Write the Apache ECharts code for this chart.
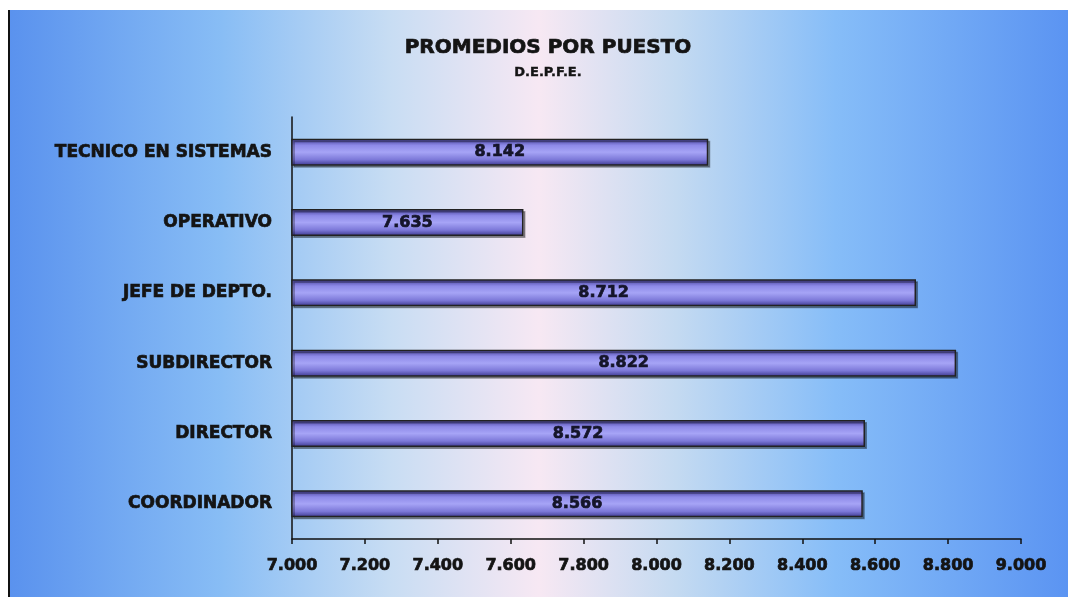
<!DOCTYPE html>
<html>
<head>
<meta charset="utf-8">
<script src="https://cdn.jsdelivr.net/npm/echarts@6/dist/echarts.min.js"></script>
<style>
  html, body { margin: 0; padding: 0; background: #fff; }
  #edge { position: absolute; left: 8px; top: 10px; width: 2px; height: 587px; background: #111; }
  #chart { position: absolute; left: 10px; top: 10px; width: 1058px; height: 587px; }
</style>
</head>
<body>
<div id="edge"></div>
<div id="chart"></div>
<script>
// top to bottom, as in the picture
const puestos = ['TECNICO EN SISTEMAS', 'OPERATIVO', 'JEFE DE DEPTO.', 'SUBDIRECTOR', 'DIRECTOR', 'COORDINADOR']
const promedios = [8.142, 7.635, 8.712, 8.822, 8.572, 8.566]

const font = '"DejaVu Sans", sans-serif'
// heavy text, like the original's
const heavy = { fontFamily: font, fontWeight: 'bold', color: '#141414', textBorderColor: '#141414', textBorderWidth: 0.7 }
const chart = echarts.init(document.getElementById('chart'))

const option = {
  backgroundColor: new echarts.graphic.LinearGradient(0, 0, 1, 0, [
    { offset: 0, color: '#5a92ee' },
    { offset: 0.2, color: '#88bdf5' },
    { offset: 0.36, color: '#c8ddf3' },
    { offset: 0.5, color: '#f7e8f3' },
    { offset: 0.63, color: '#c4daf1' },
    { offset: 0.78, color: '#86bdf8' },
    { offset: 1, color: '#5b94f2' },
  ]),
  title: {
    text: 'PROMEDIOS POR PUESTO',
    subtext: 'D.E.P.F.E.',
    left: 533,
    top: 23,
    textAlign: 'center',
    itemGap: 7,
    textStyle: { ...heavy, fontSize: 20 },
    subtextStyle: { ...heavy, fontSize: 13, textBorderWidth: 0.4 },
  },
  grid: { left: 282, right: 47, top: 107, bottom: 58 },
  xAxis: {
    type: 'value',
    min: 7,
    max: 9,
    interval: 0.2,
    axisLine: { show: true, lineStyle: { color: '#111', width: 1.5 } },
    axisTick: { show: true, length: 5, lineStyle: { color: '#111', width: 1.5 } },
    splitLine: { show: false },
    axisLabel: {
      ...heavy,
      margin: 19,
      fontSize: 16,
      formatter: (v) => v.toFixed(3),
    },
  },
  yAxis: {
    type: 'category',
    inverse: true,
    data: puestos,
    axisLine: { show: true, lineStyle: { color: '#111', width: 1.5 } },
    axisTick: { show: false },
    axisLabel: { ...heavy, margin: 20, fontSize: 17 },
  },
  series: [
    {
      type: 'bar',
      data: promedios,
      barWidth: 27,
      itemStyle: {
        color: new echarts.graphic.LinearGradient(0, 0, 0, 1, [
          { offset: 0, color: '#413c96' },
          { offset: 0.25, color: '#8e8ae8' },
          { offset: 0.5, color: '#a6a4f6' },
          { offset: 0.78, color: '#7c78d8' },
          { offset: 1, color: '#3a368c' },
        ]),
        borderColor: '#222',
        borderWidth: 1.5,
        shadowColor: 'rgba(0,0,0,0.35)',
        shadowOffsetX: 2,
        shadowOffsetY: 2,
      },
      label: {
        ...heavy,
        show: true,
        position: 'inside',
        color: '#15152a',
        textBorderColor: '#15152a',
        fontSize: 16,
        formatter: (p) => p.value.toFixed(3),
      },
    },
  ],
}

chart.setOption(option)
</script>
</body>
</html>
